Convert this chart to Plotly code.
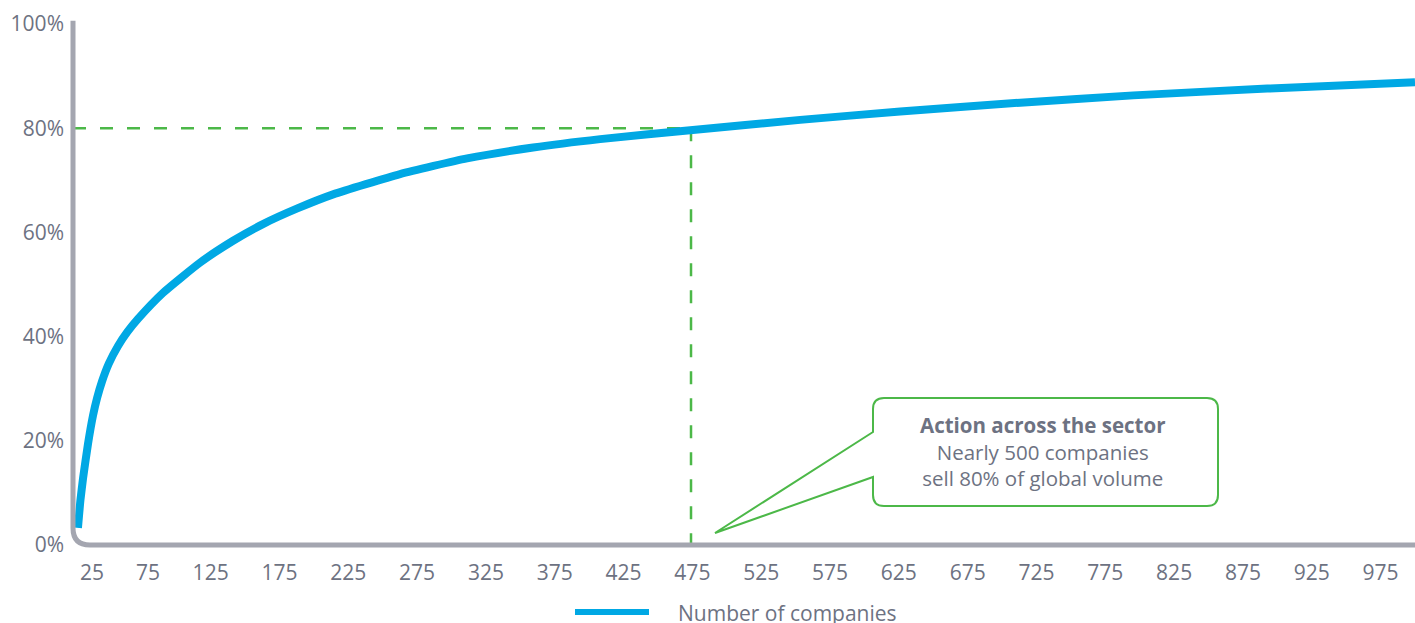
import plotly.graph_objects as go

# ---- data ----
companies = [28.6, 30.4, 32.3, 35.9, 39.5, 42.5, 46.1, 51.0, 57.7, 64.5, 72.2, 90.4, 117.3,
             141.3, 163, 188, 214, 262.6, 311.3, 359.3, 408, 473.4, 553.3, 626, 713.2,
             795.3, 892.7, 1000]
share_pct = [3.3, 8.6, 12.8, 19.4, 24.8, 28.2, 31.4, 34.8, 38.2, 40.9, 43.4, 48.4, 54.2,
             58.4, 61.6, 64.6, 67.3, 71.2, 74.2, 76.3, 77.9, 79.6, 81.6, 83.2, 84.9,
             86.3, 87.6, 88.8]
x_tick_labels = [25, 75, 125, 175, 225, 275, 325, 375, 425, 475, 525, 575, 625,
                 675, 725, 775, 825, 875, 925, 975]
y_ticks = [0, 20, 40, 60, 80, 100]
threshold_pct = 80
threshold_companies = 474
series_name = "Number of companies"
callout_title = "Action across the sector"
callout_lines = ["Nearly 500 companies", "sell 80% of global volume"]

# ---- styling ----
W, H = 1415, 623
ML, MR, MT, MB = 73, 0, 24, 78
PW, PH = W - ML - MR, H - MT - MB
BLUE = "#00a8e4"
GREEN = "#4cb848"
AXIS = "#a4a6b0"
TEXT = "#6d7282"
FONT = "Open Sans"
FS = 21


def px_x(p):
    return (p - ML) / PW


def px_y(p):
    return (H - MB - p) / PH


fig = go.Figure()
fig.add_trace(go.Scatter(
    x=companies, y=share_pct, mode="lines", name=series_name,
    line=dict(color=BLUE, width=8, shape="spline", smoothing=0.5),
    showlegend=False, hoverinfo="x+y",
))

# tick label positions (first labels nudged right of the axis corner, as in the reference)
tick_pos = list(x_tick_labels)
tick_pos[0] = 38.8
tick_pos[1] = 79.4

shapes = []
# axis with rounded corner
rx, ry = 17 / PW, 17 / PH
shapes.append(dict(type="path", xref="paper", yref="paper",
                   path=f"M 0,1.006 L 0,{ry} Q 0,0 {rx},0 L 1,0",
                   line=dict(color=AXIS, width=5), layer="above"))
# dashed threshold lines
shapes.append(dict(type="line", xref="x", yref="y", x0=25, x1=threshold_companies,
                   y0=threshold_pct, y1=threshold_pct,
                   line=dict(color=GREEN, width=2.5, dash="13px,14px"), layer="below"))
shapes.append(dict(type="line", xref="x", yref="y", x0=threshold_companies, x1=threshold_companies,
                   y0=threshold_pct, y1=0,
                   line=dict(color=GREEN, width=2.5, dash="13px,14px"), layer="below"))

# callout box with pointer (pixel geometry converted to paper)
bx0, bx1, by0, by1, r = 873, 1218, 398, 506, 11
tipx, tipy = 715, 533
p1y, p2y = 432, 477
path = (
    f"M {px_x(bx0)},{px_y(p1y)} "
    f"L {px_x(tipx)},{px_y(tipy)} "
    f"L {px_x(bx0)},{px_y(p2y)} "
    f"L {px_x(bx0)},{px_y(by1 - r)} "
    f"Q {px_x(bx0)},{px_y(by1)} {px_x(bx0 + r)},{px_y(by1)} "
    f"L {px_x(bx1 - r)},{px_y(by1)} "
    f"Q {px_x(bx1)},{px_y(by1)} {px_x(bx1)},{px_y(by1 - r)} "
    f"L {px_x(bx1)},{px_y(by0 + r)} "
    f"Q {px_x(bx1)},{px_y(by0)} {px_x(bx1 - r)},{px_y(by0)} "
    f"L {px_x(bx0 + r)},{px_y(by0)} "
    f"Q {px_x(bx0)},{px_y(by0)} {px_x(bx0)},{px_y(by0 + r)} Z"
)
shapes.append(dict(type="path", xref="paper", yref="paper", path=path,
                   fillcolor="white", line=dict(color=GREEN, width=2), layer="above"))

# legend line drawn manually (long swatch as in reference)
shapes.append(dict(type="line", xref="paper", yref="paper",
                   x0=px_x(575), x1=px_x(649), y0=px_y(612), y1=px_y(612),
                   line=dict(color=BLUE, width=6)))

annotations = [
    dict(xref="paper", yref="paper", x=px_x(1043), y=px_y(451),
         text=f"<b>{callout_title}</b><br>" + "<br>".join(callout_lines),
         showarrow=False, align="center", xanchor="center", yanchor="middle",
         font=dict(family=FONT, size=FS - 0.5, color=TEXT)),
    dict(xref="paper", yref="paper", x=px_x(676), y=px_y(613),
         text=series_name, showarrow=False, xanchor="left", yanchor="middle",
         font=dict(family=FONT, size=FS, color=TEXT)),
]

fig.update_layout(
    width=W, height=H,
    margin=dict(l=ML, r=MR, t=MT, b=MB),
    paper_bgcolor="white", plot_bgcolor="white",
    font=dict(family=FONT, size=FS, color=TEXT),
    shapes=shapes, annotations=annotations,
    showlegend=False,
    xaxis=dict(range=[25, 1000], tickmode="array", tickvals=tick_pos,
               ticktext=[str(v) for v in x_tick_labels],
               showgrid=False, zeroline=False, showline=False, ticks="",
               ticklabelstandoff=13, fixedrange=True,
               tickfont=dict(family=FONT, size=FS, color=TEXT)),
    yaxis=dict(range=[0, 100], tickmode="array", tickvals=y_ticks,
               ticktext=[f"{v}%" for v in y_ticks],
               showgrid=False, zeroline=False, showline=False, ticks="",
               ticklabelstandoff=8, fixedrange=True,
               tickfont=dict(family=FONT, size=FS, color=TEXT)),
)

fig.write_html("out.html", config={"displayModeBar": False})
